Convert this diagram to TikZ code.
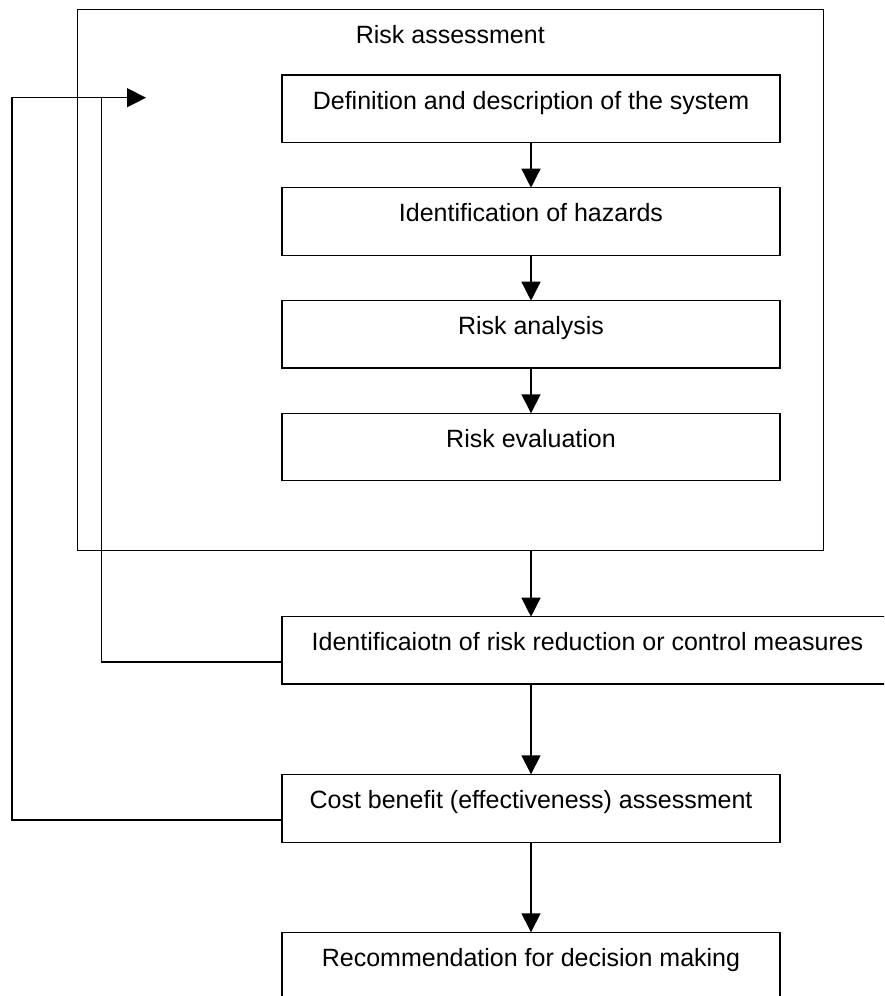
\documentclass[tikz,border=0pt]{standalone}
\usepackage{fontspec}
\setmainfont{Liberation Sans}
\usetikzlibrary{arrows.meta}
\begin{document}
\begin{tikzpicture}[x=1pt,y=-1pt,
  wire/.style={line width=1.4pt},
  flow/.style={wire, -{Triangle[length=19pt,width=19pt]}},
  stage/.style={draw, wire, anchor=north west, outer sep=0pt,
    inner xsep=0pt, inner ysep=0pt, text height=34pt,
    minimum width=498pt, font=\fontsize{25}{30}\selectfont}]
\clip (0,0) rectangle (884,996);

% enclosing risk assessment frame
\node[stage, minimum width=746pt, text depth=507.4pt] (frame) at (77.3,9.3) {Risk assessment};

% process stages
\node[stage, text depth=33.7pt] (define) at (282,75) {Definition and description of the system};
\node[stage, text depth=34pt] (hazards) at (282,187.7) {Identification of hazards};
\node[stage, text depth=33.3pt] (analysis) at (282,300.7) {Risk analysis};
\node[stage, text depth=33.4pt] (evaluation) at (282,413.3) {Risk evaluation};
\node[stage, minimum width=611pt, text depth=33.3pt] (measures) at (282,616.7) {Identificaiotn of risk reduction or control measures};
\node[stage, text depth=34pt] (cost) at (282,774.3) {Cost benefit (effectiveness) assessment};
\node[stage, text depth=34pt] (recommend) at (282,932.3) {Recommendation for decision making};

% main flow
\draw[flow] (define.south) -- (hazards.north);
\draw[flow] (hazards.south) -- (analysis.north);
\draw[flow] (analysis.south) -- (evaluation.north);
\draw[flow] (frame.south -| define.south) -- (define.south |- measures.north);
\draw[flow] (measures.south -| cost.north) -- (cost.north);
\draw[flow] (cost.south) -- (recommend.north);

% feedback loops back into the assessment
\coordinate (feedA) at (101.7,97.7);
\coordinate (feedB) at (12,97.7);
\coordinate (entry) at (146,97.7);
\draw[wire] ([yshift=-11.7pt]measures.west) -| (feedA);
\draw[wire] ([yshift=-11.7pt]cost.west) -| (feedB) -- (feedA);
\draw[flow] (feedA) -- (entry);
\end{tikzpicture}
\end{document}
